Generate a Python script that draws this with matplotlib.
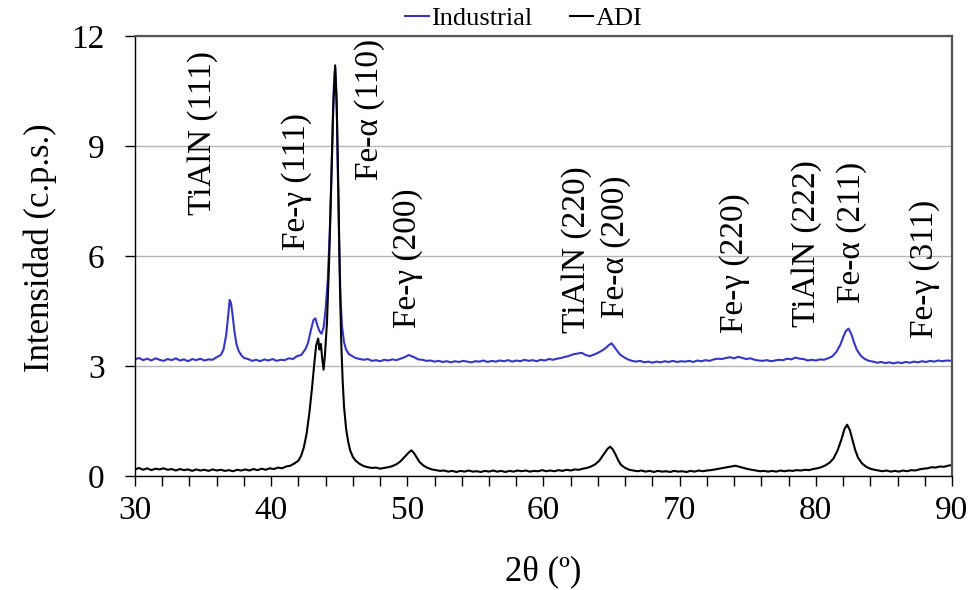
import matplotlib
matplotlib.use("Agg")
import matplotlib.pyplot as plt
from matplotlib.ticker import MultipleLocator

plt.rcParams['font.family'] = ['Liberation Serif', 'DejaVu Serif']

# ---- Diffraction patterns (2θ in degrees, intensity in c.p.s.) ----
ind_2theta = [
    30.0, 30.3, 30.6, 30.9, 31.2, 31.5, 31.8, 32.1, 32.4, 32.7, 33.0, 33.3, 33.6, 33.9,
    34.2, 34.5, 34.8, 35.1, 35.4, 35.7, 36.0, 36.3, 36.5, 36.7, 36.85, 36.95, 37.05,
    37.15, 37.3, 37.45, 37.6, 37.8, 38.0, 38.3, 38.6, 38.9, 39.2, 39.5, 39.8, 40.1,
    40.4, 40.7, 41.0, 41.3, 41.6, 41.9, 42.2, 42.5, 42.7, 42.9, 43.1, 43.25, 43.4,
    43.55, 43.7, 43.85, 44.0, 44.15, 44.3, 44.45, 44.6, 44.7, 44.8, 44.9, 45.0, 45.1,
    45.2, 45.35, 45.5, 45.7, 45.9, 46.2, 46.5, 46.8, 47.1, 47.4, 47.7, 48.0, 48.3,
    48.6, 48.9, 49.2, 49.5, 49.8, 50.1, 50.3, 50.5, 50.8, 51.1, 51.4, 51.7, 52.0,
    52.3, 52.6, 52.9, 53.2, 53.5, 53.8, 54.1, 54.4, 54.7, 55.0, 55.3, 55.6, 55.9,
    56.2, 56.5, 56.8, 57.1, 57.4, 57.7, 58.0, 58.3, 58.6, 58.9, 59.2, 59.5, 59.8,
    60.1, 60.4, 60.7, 61.0, 61.3, 61.6, 61.9, 62.2, 62.5, 62.8, 63.1, 63.4, 63.7,
    64.0, 64.3, 64.6, 64.8, 65.0, 65.2, 65.4, 65.6, 65.9, 66.2, 66.5, 66.8, 67.1,
    67.4, 67.7, 68.0, 68.3, 68.6, 68.9, 69.2, 69.5, 69.8, 70.1, 70.4, 70.7, 71.0,
    71.3, 71.6, 71.9, 72.2, 72.5, 72.8, 73.1, 73.4, 73.7, 74.0, 74.3, 74.6, 74.9,
    75.2, 75.5, 75.8, 76.1, 76.4, 76.7, 77.0, 77.3, 77.6, 77.9, 78.2, 78.5, 78.8,
    79.1, 79.4, 79.7, 80.0, 80.3, 80.6, 80.9, 81.2, 81.5, 81.8, 82.0, 82.2, 82.4,
    82.6, 82.8, 83.0, 83.3, 83.6, 83.9, 84.2, 84.5, 84.8, 85.1, 85.4, 85.7, 86.0,
    86.3, 86.6, 86.9, 87.2, 87.5, 87.8, 88.1, 88.4, 88.7, 89.0, 89.3, 89.6, 90.0,
]
ind_cps = [
    3.18, 3.22, 3.16, 3.20, 3.15, 3.21, 3.17, 3.14, 3.19, 3.16, 3.21, 3.15, 3.18, 3.13,
    3.19, 3.16, 3.20, 3.15, 3.18, 3.17, 3.24, 3.30, 3.45, 3.85, 4.40, 4.80, 4.72,
    4.45, 3.95, 3.60, 3.42, 3.30, 3.22, 3.19, 3.14, 3.17, 3.13, 3.18, 3.15, 3.19,
    3.14, 3.17, 3.16, 3.21, 3.19, 3.27, 3.30, 3.45, 3.62, 3.95, 4.25, 4.30, 4.10,
    3.95, 3.88, 4.05, 4.55, 5.30, 6.60, 8.50, 10.6, 11.15, 10.4, 8.20, 6.20, 4.80,
    4.10, 3.65, 3.45, 3.33, 3.28, 3.22, 3.19, 3.17, 3.19, 3.14, 3.16, 3.13, 3.17,
    3.15, 3.18, 3.16, 3.20, 3.24, 3.30, 3.27, 3.24, 3.18, 3.17, 3.14, 3.15, 3.12,
    3.14, 3.11, 3.13, 3.10, 3.13, 3.11, 3.14, 3.12, 3.10, 3.13, 3.12, 3.15, 3.11,
    3.14, 3.12, 3.15, 3.13, 3.16, 3.12, 3.15, 3.13, 3.17, 3.14, 3.16, 3.13, 3.17,
    3.15, 3.19, 3.17, 3.20, 3.22, 3.25, 3.28, 3.32, 3.34, 3.36, 3.30, 3.27, 3.31,
    3.36, 3.42, 3.50, 3.57, 3.62, 3.52, 3.42, 3.32, 3.24, 3.18, 3.14, 3.12, 3.14,
    3.10, 3.12, 3.09, 3.12, 3.10, 3.13, 3.11, 3.14, 3.11, 3.13, 3.12, 3.14, 3.11,
    3.15, 3.13, 3.16, 3.14, 3.18, 3.20, 3.19, 3.22, 3.24, 3.21, 3.25, 3.22, 3.19,
    3.21, 3.17, 3.15, 3.14, 3.16, 3.13, 3.15, 3.17, 3.16, 3.20, 3.18, 3.23, 3.20,
    3.19, 3.15, 3.17, 3.15, 3.18, 3.17, 3.21, 3.26, 3.38, 3.58, 3.78, 3.95, 4.02,
    3.88, 3.65, 3.45, 3.28, 3.19, 3.14, 3.12, 3.09, 3.11, 3.08, 3.10, 3.07, 3.10,
    3.08, 3.11, 3.09, 3.12, 3.10, 3.13, 3.11, 3.14, 3.12, 3.15, 3.13, 3.15, 3.14,
]

adi_2theta = [
    30.0, 30.3, 30.6, 30.9, 31.2, 31.5, 31.8, 32.1, 32.4, 32.7, 33.0, 33.3, 33.6, 33.9,
    34.2, 34.5, 34.8, 35.1, 35.4, 35.7, 36.0, 36.3, 36.6, 36.9, 37.2, 37.5, 37.8,
    38.1, 38.4, 38.7, 39.0, 39.3, 39.6, 39.9, 40.2, 40.5, 40.8, 41.1, 41.4, 41.7,
    42.0, 42.2, 42.4, 42.6, 42.8, 43.0, 43.15, 43.3, 43.45, 43.55, 43.65, 43.75,
    43.85, 43.95, 44.1, 44.25, 44.4, 44.55, 44.7, 44.82, 44.95, 45.05, 45.15, 45.25,
    45.35, 45.5, 45.65, 45.8, 46.0, 46.2, 46.5, 46.8, 47.1, 47.4, 47.7, 48.0, 48.3,
    48.6, 48.9, 49.2, 49.5, 49.8, 50.1, 50.3, 50.5, 50.7, 50.9, 51.2, 51.5, 51.8,
    52.1, 52.4, 52.7, 53.0, 53.3, 53.6, 53.9, 54.2, 54.5, 54.8, 55.1, 55.4, 55.7,
    56.0, 56.3, 56.6, 56.9, 57.2, 57.5, 57.8, 58.1, 58.4, 58.7, 59.0, 59.3, 59.6,
    59.9, 60.2, 60.5, 60.8, 61.1, 61.4, 61.7, 62.0, 62.3, 62.6, 62.9, 63.2, 63.5,
    63.8, 64.1, 64.4, 64.7, 64.9, 65.1, 65.3, 65.5, 65.7, 66.0, 66.3, 66.6, 66.9,
    67.2, 67.5, 67.8, 68.1, 68.4, 68.7, 69.0, 69.3, 69.6, 69.9, 70.2, 70.5, 70.8,
    71.1, 71.4, 71.7, 72.0, 72.3, 72.6, 72.9, 73.2, 73.5, 73.8, 74.1, 74.4, 74.7,
    75.0, 75.3, 75.6, 75.9, 76.2, 76.5, 76.8, 77.1, 77.4, 77.7, 78.0, 78.3, 78.6,
    78.9, 79.2, 79.5, 79.8, 80.1, 80.4, 80.7, 81.0, 81.3, 81.6, 81.9, 82.1, 82.3,
    82.5, 82.7, 82.9, 83.1, 83.4, 83.7, 84.0, 84.3, 84.6, 84.9, 85.2, 85.5, 85.8,
    86.1, 86.4, 86.7, 87.0, 87.3, 87.6, 87.9, 88.2, 88.5, 88.8, 89.1, 89.4, 89.7, 90.0,
]
adi_cps = [
    0.18, 0.22, 0.17, 0.21, 0.16, 0.20, 0.18, 0.21, 0.17, 0.19, 0.15, 0.19, 0.16, 0.18,
    0.14, 0.18, 0.15, 0.17, 0.14, 0.18, 0.15, 0.17, 0.14, 0.16, 0.13, 0.17, 0.15,
    0.18, 0.15, 0.19, 0.16, 0.20, 0.17, 0.21, 0.19, 0.23, 0.21, 0.26, 0.28, 0.34,
    0.42, 0.55, 0.78, 1.15, 1.70, 2.40, 3.00, 3.55, 3.75, 3.45, 3.60, 3.20,
    2.90, 3.30, 4.20, 5.80, 7.80, 10.0, 11.2, 10.0, 7.50, 5.20, 3.60, 2.60,
    1.90, 1.30, 0.95, 0.70, 0.52, 0.42, 0.33, 0.27, 0.24, 0.22, 0.23, 0.20, 0.22,
    0.24, 0.27, 0.32, 0.40, 0.52, 0.64, 0.70, 0.62, 0.50, 0.38, 0.28, 0.22, 0.18,
    0.16, 0.14, 0.15, 0.12, 0.14, 0.11, 0.14, 0.12, 0.15, 0.12, 0.13, 0.11, 0.14,
    0.12, 0.15, 0.12, 0.14, 0.11, 0.14, 0.12, 0.15, 0.13, 0.15, 0.12, 0.14, 0.13,
    0.16, 0.13, 0.15, 0.13, 0.16, 0.14, 0.17, 0.15, 0.18, 0.17, 0.20, 0.22, 0.26,
    0.32, 0.42, 0.58, 0.74, 0.80, 0.72, 0.58, 0.42, 0.30, 0.22, 0.17, 0.15, 0.13,
    0.15, 0.12, 0.14, 0.11, 0.14, 0.12, 0.13, 0.11, 0.14, 0.12, 0.13, 0.11, 0.14,
    0.12, 0.15, 0.13, 0.15, 0.16, 0.18, 0.20, 0.22, 0.24, 0.26, 0.28, 0.25, 0.22,
    0.19, 0.17, 0.15, 0.13, 0.14, 0.12, 0.14, 0.12, 0.15, 0.13, 0.15, 0.14, 0.16,
    0.15, 0.17, 0.16, 0.19, 0.21, 0.24, 0.29, 0.36, 0.48, 0.70, 1.02, 1.28, 1.40,
    1.25, 0.98, 0.70, 0.50, 0.34, 0.25, 0.20, 0.17, 0.15, 0.13, 0.15, 0.12, 0.14,
    0.12, 0.15, 0.13, 0.16, 0.15, 0.18, 0.20, 0.21, 0.24, 0.23, 0.26, 0.25, 0.28, 0.30,
]

# ---- Reflection labels: text, 2θ position, intensity where the label starts ----
peak_labels = ["TiAlN (111)", "Fe-γ (111)", "Fe-α (110)", "Fe-γ (200)",
               "TiAlN (220)", "Fe-α (200)", "Fe-γ (220)", "TiAlN (222)",
               "Fe-α (211)", "Fe-γ (311)"]
label_2theta = [35.0, 41.9, 47.2, 50.05, 62.4, 65.3, 74.05, 79.3, 82.6, 88.0]
label_base = [7.12, 6.16, 8.07, 4.04, 3.90, 4.31, 3.90, 4.06, 4.72, 3.76]

series_names = ["Industrial", "ADI"]
series_colors = ["#3535c8", "#000000"]

fig = plt.figure(figsize=(9.74, 5.90), dpi=100)
ax = fig.add_axes([0.1386, 0.1932, 0.8388, 0.7458])

ax.plot(ind_2theta, ind_cps, color=series_colors[0], lw=1.5, label=series_names[0])
ax.plot(adi_2theta, adi_cps, color=series_colors[1], lw=1.5, label=series_names[1])

for txt, xp, yp in zip(peak_labels, label_2theta, label_base):
    ax.text(xp, yp, txt, rotation=90, ha='center', va='bottom', fontsize=24)

ax.set_xlim(30, 90)
ax.set_ylim(0, 12)
ax.xaxis.set_major_locator(MultipleLocator(10))
ax.xaxis.set_minor_locator(MultipleLocator(2))
ax.yaxis.set_major_locator(MultipleLocator(3))

ax.yaxis.grid(True, color='#b4b4b4', lw=1.0)
ax.set_axisbelow(True)

ax.tick_params(axis='x', which='both', direction='out', length=7, width=1,
               labelsize=24, pad=7)
ax.tick_params(axis='y', which='major', direction='out', length=7, width=1,
               labelsize=24, pad=15)
ax.tick_params(top=False, right=False)

for side in ('top', 'right'):
    ax.spines[side].set_color('#555555')
    ax.spines[side].set_linewidth(1.6)
for side in ('left', 'bottom'):
    ax.spines[side].set_color('black')
    ax.spines[side].set_linewidth(1.0)

ax.set_xlabel("2θ (º)", fontsize=25, va='center')
ax.xaxis.set_label_coords(0.5, -0.218)
ax.set_ylabel("Intensidad (c.p.s.)", fontsize=25, va='center', ha='center')
ax.yaxis.set_label_coords(-0.116, 0.518)

fig.legend(loc='center', bbox_to_anchor=(0.538, 0.969), ncol=2, frameon=False,
           fontsize=19, handlelength=0.9, handletextpad=0.1, columnspacing=1.4,
           borderaxespad=0)

fig.savefig("out.png", dpi=100)
